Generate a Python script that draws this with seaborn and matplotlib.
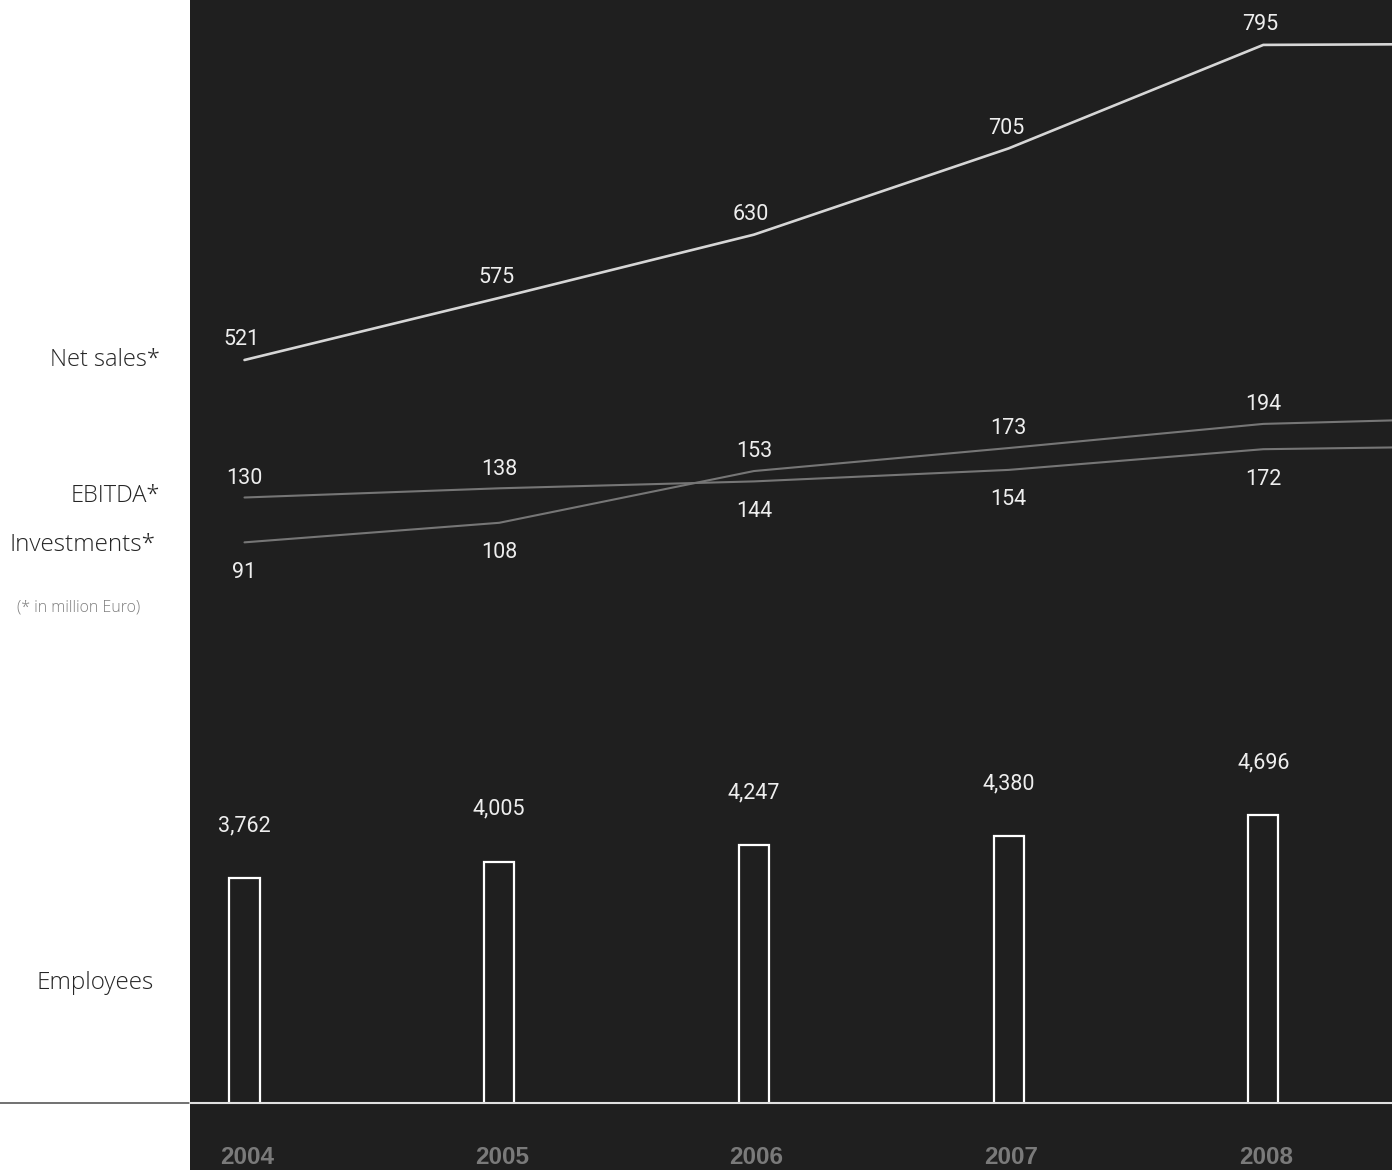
import matplotlib
matplotlib.use("Agg")
import matplotlib.pyplot as plt
import seaborn as sns
import pandas as pd
from matplotlib.lines import Line2D

# values (2009 only shows as the line stub at the right edge)
years = [2004, 2005, 2006, 2007, 2008, 2009]
net_sales = [521, 575, 630, 705, 795, 796]
ebitda = [130, 138, 144, 154, 172, 175]
investments = [91, 108, 153, 173, 194, 200]
employees = [3762, 4005, 4247, 4380, 4696]
year_labels = ["2004", "2005", "2006", "2007", "2008"]

sns.set_style("white")
plt.rcParams["font.family"] = ["Roboto", "DejaVu Sans"]

BG = "#1f1f1f"
W, H = 1392, 1170
fig = plt.figure(figsize=(W / 100, H / 100), dpi=100)
fig.patch.set_facecolor("white")

# x mapping: index 0 at px 244.5, 254.7 px per year, panel starts at px 190
x_left = (190 - 244.5) / 254.7
x_right = (W - 244.5) / 254.7
panel = [190 / W, 0, (W - 190) / W, 1]

lines_df = pd.DataFrame({"x": range(len(years)), "year": years,
                         "Net sales": net_sales, "EBITDA": ebitda,
                         "Investments": investments})
emp_df = pd.DataFrame({"year": year_labels, "Employees": employees})

NUM = dict(ha="center", va="center", color="#eeeeee", fontsize=15.5)

# background panel + net sales
ax_ns = fig.add_axes(panel)
ax_ns.set_facecolor(BG)
sns.lineplot(data=lines_df, x="x", y="Net sales", ax=ax_ns, color="#d6d6d6", lw=1.9)
ax_ns.set_xlim(x_left, x_right)
ax_ns.set_ylim(521 - (H - 360) / 1.15, 521 + 360 / 1.15)
for i in range(5):
    ax_ns.annotate(f"{net_sales[i]}", (i, net_sales[i]), xytext=(-2, 14.5),
                   textcoords="offset points", **NUM)

# EBITDA / investments
ax_eb = fig.add_axes(panel)
ax_eb.patch.set_visible(False)
sns.lineplot(data=lines_df, x="x", y="EBITDA", ax=ax_eb, color="#767676", lw=1.5)
sns.lineplot(data=lines_df, x="x", y="Investments", ax=ax_eb, color="#767676", lw=1.5)
ax_eb.set_xlim(x_left, x_right)
ax_eb.set_ylim(130 - (H - 497.5) / 1.15, 130 + 497.5 / 1.15)
for i in range(5):
    hi, lo = max(ebitda[i], investments[i]), min(ebitda[i], investments[i])
    ax_eb.annotate(f"{hi}", (i, hi), xytext=(0, 13.8), textcoords="offset points", **NUM)
    ax_eb.annotate(f"{lo}", (i, lo), xytext=(0, -21.5), textcoords="offset points", **NUM)

# employees bars, clipped at the baseline
base_px = 1103
s = 63 / (4696 - 3762)
ax_bar = fig.add_axes([190 / W, (H - base_px) / H, (W - 190) / W, base_px / H])
ax_bar.patch.set_visible(False)
sns.barplot(data=emp_df, x="year", y="Employees", ax=ax_bar, width=0.118,
            fill=False, edgecolor="white", linewidth=1.6)
ax_bar.set_xlim(x_left, x_right)
b = 3762 - (base_px - 878) / s
ax_bar.set_ylim(b, b + base_px / s)
for i, v in enumerate(employees):
    ax_bar.annotate(f"{v:,}", (i, v), xytext=(0, 37.8), textcoords="offset points", **NUM)

for a in (ax_ns, ax_eb, ax_bar):
    a.set_xticks([])
    a.set_yticks([])
    a.set_xlabel("")
    a.set_ylabel("")
    sns.despine(ax=a, left=True, bottom=True)

# year labels
for i, lab in enumerate(year_labels):
    ax_ns.text(i + 0.01, -(1157 - 360) / 1.15 + 521, lab, ha="center", va="center",
               color="#7a7a7a", fontsize=17.5, fontweight="bold",
               family=["Liberation Sans", "DejaVu Sans"])

# baseline across the whole figure
yb = 1 - base_px / H
fig.add_artist(Line2D([0, 190 / W], [yb, yb], color="#666666", lw=1.3,
                      transform=fig.transFigure))
fig.add_artist(Line2D([190 / W, 1], [yb, yb], color="#e0e0e0", lw=1.5,
                      transform=fig.transFigure))

# row labels on the left
def left_label(txt, xr, yp, size, color="#262626"):
    fig.text(xr / W, 1 - yp / H, txt, ha="right", va="center", fontsize=size,
             color=color, family=["Open Sans", "DejaVu Sans"], fontweight="light")

left_label("Net sales*", 160, 360, 17)
left_label("EBITDA*", 160, 496, 17)
left_label("Investments*", 156, 545, 17.5)
left_label("(* in million Euro)", 140, 608, 11.5, color="#808080")
left_label("Employees", 154, 983, 17.5)

fig.savefig("out.png", dpi=100, facecolor=fig.get_facecolor())
